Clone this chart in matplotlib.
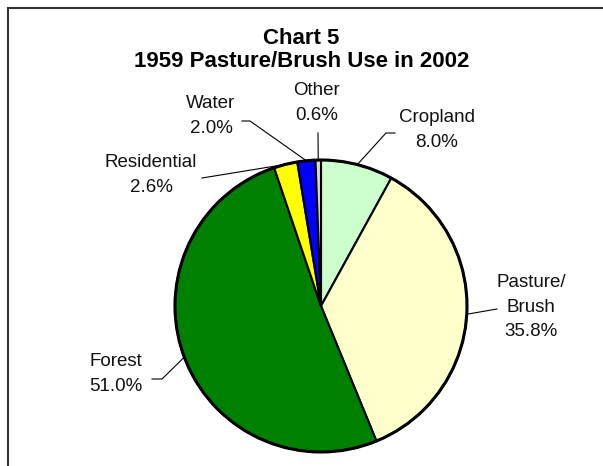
import numpy as np
import matplotlib
matplotlib.use("Agg")
import matplotlib.pyplot as plt
from matplotlib.patches import Rectangle, Circle

plt.rcParams['font.family'] = ['Liberation Sans', 'DejaVu Sans']

categories = ["Cropland", "Pasture/\nBrush", "Forest", "Residential", "Water", "Other"]
shares = [8.0, 35.8, 51.0, 2.6, 2.0, 0.6]
colors = ["#CCFFCC", "#FFFFCC", "#008000", "#FFFF00", "#0000FF", "#D9D9D9"]

# pixel layout of the reference (pie centre / radius, label centres, elbows)
CX, CY, R = 321, 306, 146
label_px = [(437, 130), (531, 307), (116, 374), (151, 175), (211, 116), (317, 103)]
elbow_px = [[(386, 133), (395, 133)],
            [(497, 309)],
            [(162, 379), (152, 379)],
            [(202, 178)],
            [(250, 121), (242, 121)],
            [(318, 133)]]


def to_data(p):
    return (p[0] - CX) / R, (CY - p[1]) / R


fig = plt.figure(figsize=(6.03, 4.66), dpi=100)
ax = fig.add_axes([0, 0, 1, 1])
ax.axis("off")

wedges, _ = ax.pie(shares, colors=colors, startangle=90, counterclock=False,
                   radius=1.0, wedgeprops=dict(edgecolor="black", linewidth=1.5))
ax.add_patch(Circle((0, 0), 1.0, fill=False, edgecolor="black", linewidth=2.2, zorder=5))
ax.set_xlim(-CX / R, (603 - CX) / R)
ax.set_ylim(-(466 - CY) / R, CY / R)
ax.set_aspect("equal")

for w, cat, val, lp, elb in zip(wedges, categories, shares, label_px, elbow_px):
    mid = np.deg2rad((w.theta1 + w.theta2) / 2)
    pts = [(np.cos(mid), np.sin(mid))] + [to_data(p) for p in elb]
    xs, ys = zip(*pts)
    ax.plot(xs, ys, color="black", linewidth=0.8, zorder=4)
    tx, ty = to_data(lp)
    ax.text(tx, ty, f"{cat}\n{val:.1f}%", ha="center", va="center",
            fontsize=13.5, color="#111111", linespacing=1.6)

fig.text(0.5, 1 - 50 / 466, "Chart 5\n1959 Pasture/Brush Use in 2002", ha="center", va="center",
         fontsize=16, fontweight="bold", linespacing=1.15)

fig.add_artist(Rectangle((8 / 603, -0.1), 1.2, 1 - 8 / 466 + 0.1, transform=fig.transFigure,
                         fill=False, edgecolor="#333333", linewidth=1.5))

fig.savefig("out.png", dpi=100)
